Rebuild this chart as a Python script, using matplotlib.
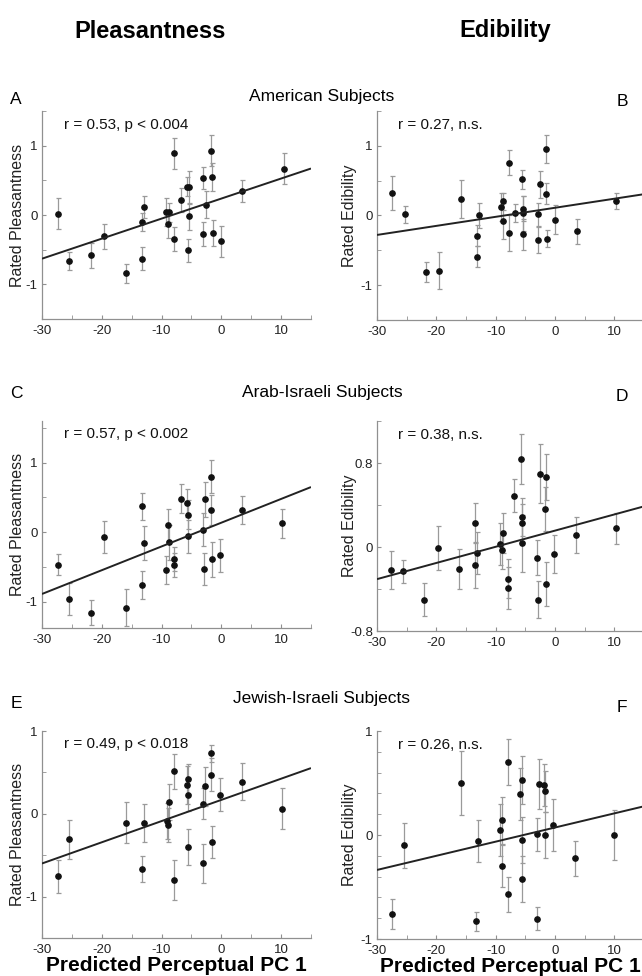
import matplotlib
matplotlib.use("Agg")
import matplotlib.pyplot as plt
import numpy as np

plt.rcParams['font.family'] = ['Liberation Sans', 'DejaVu Sans']
plt.rcParams['axes.unicode_minus'] = False

# ---------------- data ----------------
# Panel A: American, pleasantness
A_x = [-27.3, -25.4, -21.75, -19.6, -15.9, -13.2, -13.2, -12.9, -9.2, -8.9, -8.7, -8.0, -7.9, -6.8,
       -5.7, -5.4, -5.4, -5.5, -3.1, -3.0, -2.6, -1.7, -1.6, -1.4, -0.1, 3.5, 10.4]
A_y = [0.02, -0.665, -0.58, -0.31, -0.84, -0.63, -0.105, 0.11, 0.04, -0.125, 0.04, 0.89, -0.35, 0.215,
       0.41, 0.40, -0.02, -0.51, 0.53, -0.27, 0.15, 0.93, 0.545, -0.26, -0.38, 0.35, 0.67]
A_e = [0.22, 0.13, 0.18, 0.18, 0.14, 0.17, 0.13, 0.16, 0.20, 0.20, 0.14, 0.22, 0.17, 0.17,
       0.14, 0.24, 0.20, 0.17, 0.16, 0.17, 0.19, 0.22, 0.20, 0.19, 0.22, 0.16, 0.23]

# Panel B: American, edibility
B_x = [-27.4, -25.3, -21.7, -19.5, -15.8, -13.15, -13.15, -12.75, -9.05, -8.7, -8.75, -7.8, -7.7, -6.7,
       -5.6, -5.45, -5.35, -5.45, -2.9, -2.85, -2.5, -1.5, -1.45, -1.3, 0.0, 3.65, 10.3]
B_y = [0.325, 0.015, -0.81, -0.79, 0.235, -0.29, -0.59, 0.0, 0.125, 0.205, -0.08, 0.76, -0.25, 0.03,
       0.517, 0.10, 0.03, -0.27, 0.015, -0.35, 0.445, 0.315, 0.96, -0.335, -0.06, -0.225, 0.21]
B_e = [0.24, 0.12, 0.14, 0.27, 0.27, 0.15, 0.15, 0.18, 0.20, 0.12, 0.26, 0.18, 0.26, 0.13,
       0.13, 0.18, 0.25, 0.22, 0.16, 0.19, 0.20, 0.15, 0.20, 0.12, 0.21, 0.18, 0.12]

# Panel C: Arab-Israeli, pleasantness
C_x = [-27.3, -25.4, -21.75, -19.6, -15.9, -13.2, -13.2, -12.9, -9.2, -8.9, -8.7, -7.9, -7.9, -6.8,
       -5.7, -5.6, -5.5, -3.1, -2.95, -2.7, -1.75, -1.75, -1.6, -0.25, 3.4, 10.1]
C_y = [-0.47, -0.96, -1.16, -0.07, -1.085, 0.37, -0.76, -0.155, -0.55, 0.10, -0.145, -0.47, -0.39, 0.48,
       0.425, 0.25, -0.06, 0.035, -0.525, 0.47, 0.80, 0.32, -0.39, -0.335, 0.32, 0.13]
C_e = [0.15, 0.23, 0.18, 0.23, 0.26, 0.20, 0.20, 0.25, 0.20, 0.23, 0.25, 0.17, 0.17, 0.21,
       0.20, 0.21, 0.24, 0.24, 0.23, 0.25, 0.24, 0.22, 0.25, 0.24, 0.20, 0.21]

# Panel D: Arab-Israeli, edibility
D_x = [-27.6, -25.7, -22.0, -19.8, -16.1, -13.4, -13.4, -13.1, -9.3, -8.9, -8.8, -7.9, -8.0, -6.9,
       -5.8, -5.6, -5.5, -5.5, -3.0, -2.9, -2.6, -1.55, -1.7, -1.5, -0.1, 3.5, 10.3]
D_y = [-0.22, -0.23, -0.50, -0.006, -0.21, 0.23, -0.175, -0.06, 0.03, -0.03, 0.135, -0.30, -0.395, 0.49,
       0.84, 0.285, 0.23, 0.035, -0.10, -0.50, 0.70, 0.67, 0.36, -0.355, -0.063, 0.114, 0.177]
D_e = [0.18, 0.11, 0.16, 0.21, 0.19, 0.19, 0.22, 0.20, 0.20, 0.18, 0.19, 0.19, 0.20, 0.16,
       0.24, 0.18, 0.18, 0.27, 0.17, 0.18, 0.28, 0.22, 0.21, 0.21, 0.18, 0.17, 0.15]

# Panel E: Jewish-Israeli, pleasantness
E_x = [-27.3, -25.4, -15.9, -12.9, -13.2, -9.1, -8.9, -8.8, -8.0, -7.9, -5.8, -5.6, -5.5, -5.6,
       -3.15, -3.0, -2.7, -1.75, -1.75, -1.6, -0.25, 3.4, 10.1]
E_y = [-0.756, -0.31, -0.108, -0.116, -0.668, -0.088, -0.136, 0.14, 0.512, -0.80, 0.35, 0.42, 0.23, -0.40,
       0.124, -0.60, 0.33, 0.73, 0.47, -0.34, 0.23, 0.39, 0.064]
E_e = [0.20, 0.23, 0.25, 0.23, 0.16, 0.22, 0.21, 0.22, 0.21, 0.24, 0.23, 0.18, 0.20, 0.22,
       0.19, 0.23, 0.24, 0.10, 0.20, 0.19, 0.20, 0.22, 0.25]

# Panel F: Jewish-Israeli, edibility
F_x = [-27.4, -25.4, -15.9, -12.9, -13.3, -9.3, -8.9, -9.0, -8.0, -7.9, -5.9, -5.6, -5.5, -5.6,
       -3.1, -3.0, -2.75, -1.85, -1.7, -1.65, -0.3, 3.3, 10.0]
F_y = [-0.76, -0.10, 0.50, -0.06, -0.83, 0.048, 0.14, -0.30, 0.70, -0.57, 0.39, 0.53, -0.048, -0.42,
       0.006, -0.806, 0.49, 0.48, 0.42, 0.0, 0.096, -0.225, -0.003]
F_e = [0.14, 0.22, 0.31, 0.20, 0.09, 0.25, 0.23, 0.20, 0.22, 0.17, 0.25, 0.23, 0.22, 0.22,
       0.16, 0.11, 0.24, 0.20, 0.20, 0.22, 0.25, 0.17, 0.24]

# regression lines (slope, intercept)
fit_slope = [0.0289, 0.0130, 0.0342, 0.0154, 0.0256, 0.0136]
fit_intercept = [0.237, 0.111, 0.136, 0.156, 0.168, 0.072]

stats_text = ["r = 0.53, p < 0.004", "r = 0.27, n.s.", "r = 0.57, p < 0.002",
              "r = 0.38, n.s.", "r = 0.49, p < 0.018", "r = 0.26, n.s."]
panel_letters = ["A", "B", "C", "D", "E", "F"]
group_titles = ["American Subjects", "Arab-Israeli Subjects", "Jewish-Israeli Subjects"]
column_titles = ["Pleasantness", "Edibility"]
ylabels = ["Rated Pleasantness", "Rated Edibility"]
xlabel = "Predicted Perceptual PC 1"

ylims = [(-1.5, 1.5), (-1.5, 1.5), (-1.38, 1.6), (-0.8, 1.2), (-1.5, 1.0), (-1.0, 1.0)]
ymajor = [[-1, 0, 1], [-1, 0, 1], [-1, 0, 1], [-0.8, 0, 0.8], [-1, 0, 1], [-1, 0, 1]]
yminor = [np.arange(-1.5, 1.51, 0.5), np.arange(-1.5, 1.51, 0.5), np.arange(-1.0, 1.51, 0.5),
          np.arange(-0.8, 1.21, 0.4), np.arange(-1.5, 1.01, 0.5), np.arange(-1.0, 1.01, 0.2)]
xticks_major = [-30, -20, -10, 0, 10]
xticks_minor = [-25, -15, -5, 5, 15]

panels = [(A_x, A_y, A_e), (B_x, B_y, B_e), (C_x, C_y, C_e),
          (D_x, D_y, D_e), (E_x, E_y, E_e), (F_x, F_y, F_e)]

# ---------------- figure ----------------
W, H = 642, 976
fig = plt.figure(figsize=(W / 100, H / 100), dpi=100)

def px_axes(left, top, right, bottom):
    return fig.add_axes([left / W, 1 - bottom / H, (right - left) / W, (bottom - top) / H])

# axes boxes in pixels (left, top, right, bottom)
boxes = [(42, 111, 311, 319), (377, 111, 644, 320),
         (42, 421, 311, 628), (377, 421, 644, 631),
         (42, 731, 311, 938), (377, 731, 644, 939)]
ylabel_x = [-0.063, -0.075]

spine_col = "#909090"
for i, (bx, (xs, ys, es)) in enumerate(zip(boxes, panels)):
    ax = px_axes(*bx)
    ax.set_xlim(-30, 15)
    ax.set_ylim(*ylims[i])
    ax.errorbar(xs, ys, yerr=es, fmt='none', ecolor="#9a9a9a", elinewidth=0.9,
                capsize=1.8, capthick=0.9, zorder=2)
    ax.plot(xs, ys, 'o', color="#111111", ms=3.8, zorder=3)
    xl = np.array([-30, 15])
    ax.plot(xl, fit_slope[i] * xl + fit_intercept[i], color="#222222", lw=1.4, zorder=4,
            solid_capstyle='butt')
    for s in ['top', 'right']:
        ax.spines[s].set_visible(False)
    for s in ['left', 'bottom']:
        ax.spines[s].set_color(spine_col)
        ax.spines[s].set_linewidth(0.9)
    ax.set_xticks(xticks_major)
    ax.set_xticks(xticks_minor, minor=True)
    ax.set_yticks(yminor[i], minor=True)
    ax.set_yticks(ymajor[i])
    ax.set_yticklabels([("%g" % v) for v in ymajor[i]])
    ax.tick_params(which='both', direction='in', color=spine_col, labelsize=9.5,
                   labelcolor="#222222")
    ax.tick_params(axis='x', pad=4)
    ax.tick_params(axis='y', pad=3)
    ax.tick_params(which='major', length=3)
    ax.tick_params(which='minor', length=3)
    ax.text(0.08, 0.935, stats_text[i], transform=ax.transAxes, fontsize=11,
            color="#111111", va='center', ha='left')
    col = i % 2
    ax.set_ylabel(ylabels[col], fontsize=11.5, color="#222222")
    ax.yaxis.set_label_coords(ylabel_x[col], 0.5)
    if i >= 4:
        ax.set_xlabel(xlabel, fontsize=15, fontweight='bold', labelpad=0)

# column titles
fig.text(150 / W, 1 - 31 / H, column_titles[0], fontsize=17, fontweight='bold',
         ha='center', va='center')
fig.text(505 / W, 1 - 31 / H, column_titles[1], fontsize=17, fontweight='bold',
         ha='center', va='center')

# group titles and panel letters
title_y = [97, 392, 698]
for r in range(3):
    fig.text(322 / W, 1 - title_y[r] / H, group_titles[r], fontsize=12.5,
             ha='center', va='center')
    fig.text(16 / W, 1 - (title_y[r] + 2 + 4 * (r == 2)) / H, panel_letters[2 * r], fontsize=12.5,
             ha='center', va='center')
    fig.text(622 / W, 1 - (title_y[r] + 4 + 6 * (r == 2)) / H, panel_letters[2 * r + 1], fontsize=12.5,
             ha='center', va='center')

fig.savefig("out.png", dpi=100)
